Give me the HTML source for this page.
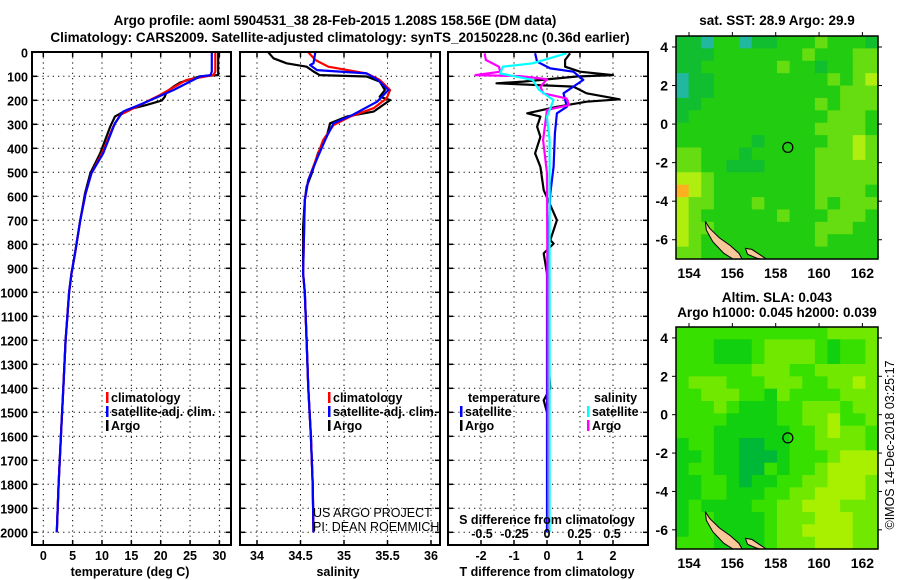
<!DOCTYPE html>
<html><head><meta charset="utf-8">
<style>
html,body{margin:0;padding:0;background:#fff;}
svg{display:block;font-family:"Liberation Sans",Arial,sans-serif;}
.b{font-weight:bold;font-size:12.5px;fill:#000;}
.t{font-weight:bold;font-size:13.5px;fill:#000;}
</style></head>
<body>
<svg id="fig" width="900" height="580" viewBox="0 0 900 580" xmlns="http://www.w3.org/2000/svg">
<text class="t" x="335" y="25" text-anchor="middle">Argo profile: aoml 5904531_38 28-Feb-2015 1.208S 158.56E (DM data)</text>
<text class="t" x="340" y="42" text-anchor="middle">Climatology: CARS2009. Satellite-adjusted climatology: synTS_20150228.nc (0.36d earlier)</text>
<text class="t" x="777" y="25" text-anchor="middle">sat. SST: 28.9 Argo: 29.9</text>
<text class="t" x="777" y="302" text-anchor="middle">Altim. SLA: 0.043</text>
<text class="t" x="777" y="317" text-anchor="middle">Argo h1000: 0.045 h2000: 0.039</text>
<text x="894" y="445" font-size="12.5" text-anchor="middle" transform="rotate(-90 894 445)">©IMOS 14-Dec-2018 03:25:17</text>
<g id="g-grid"></g>
<g id="g-lines"></g>
<g id="g-maps"></g>
<g id="g-frames"></g>
<g id="g-text"></g>
</svg>
<script>
// ---------- profile data ----------
const depthTicks = [0,100,200,300,400,500,600,700,800,900,1000,1100,1200,1300,1400,1500,1600,1700,1800,1900,2000];
const tempTicks = [0,5,10,15,20,25,30];
const salTicks = [34,34.5,35,35.5,36];
const salTickLabels = ["34","34.5","35","35.5","36"];
const tdiffTicks = [-2,-1,0,1,2];
const sdiffTicks = [-0.5,-0.25,0,0.25,0.5];
const sdiffTickLabels = ["-0.5","-0.25","0","0.25","0.5"];

const argoTDepth = [0,95,100,126,143,164,185,201,219,240,268,310,421,504,588,699,838,921,1000,1200,1400,1500,1600,1800,2000];
const argoT = [29.8,29.8,26.7,23.3,22.2,21,20.7,20.2,17.6,14.2,12.2,11.4,9.7,8,7.1,6.3,5.4,4.8,4.4,3.8,3.4,3.2,3.0,2.6,2.3];
const climTDepth = [0,80,95,115,178,219,240,261,310,421,504,588,699,838,921,1000,1200,1400,1600,1800,2000];
const climT = [29.3,29.3,29.0,24.4,19.9,16.5,14.8,13.1,11.9,10.0,8.2,7.2,6.3,5.4,4.8,4.4,3.8,3.4,3.0,2.6,2.3];
const satTDepth = [0,80,95,101,157,213,247,296,421,504,588,699,838,921,1000,1200,1400,1600,1800,2000];
const satT = [28.7,28.7,28.5,26.7,22.2,17,13.6,12.2,10.2,8.2,7.2,6.3,5.4,4.8,4.4,3.8,3.4,3.0,2.6,2.3];

const argoSDepth = [0,25,46,60,80,95,101,122,157,185,199,247,268,296,352,421,504,560,616,727,921,1000,1200,1400,1600,1800,2000];
const argoS = [34.13,34.19,34.34,34.57,34.65,34.72,35.26,35.41,35.47,35.41,35.53,35.34,35.03,34.84,34.8,34.7,34.63,34.57,34.55,34.53,34.53,34.55,34.57,34.59,34.62,34.64,34.65];
const climSDepth = [0,32,60,88,115,157,192,233,268,303,366,435,532,616,921,1000,1200,1400,1600,1800,2000];
const climS = [34.59,34.67,34.82,35.26,35.41,35.53,35.49,35.34,35.07,34.88,34.76,34.69,34.59,34.55,34.53,34.55,34.57,34.59,34.62,34.64,34.65];
const satSDepth = [0,46,53,74,88,115,157,206,261,296,352,435,532,616,921,1000,1200,1400,1600,1800,2000];
const satS = [34.67,34.65,34.61,34.69,35.26,35.39,35.51,35.38,35.1,34.88,34.8,34.7,34.59,34.55,34.53,34.55,34.57,34.59,34.62,34.64,34.65];

const argoTdDepth = [4,32,60,81,95,101,122,129,143,171,196,206,227,254,268,310,352,421,477,574,699,783,797,838,921,1000,1200,1400,1450,1500,1600,2000];
const argoTd = [0.7,0.55,0.55,1.0,2.0,0.9,-0.72,-1.53,0.8,1.2,2.2,1.2,0.3,-0.6,-0.2,-0.3,-0.2,-0.36,-0.2,-0.1,0.3,0.1,0.2,-0.1,0,0.05,0,0.1,-0.1,0,0.05,0];
const satTdDepth = [4,39,67,81,115,143,171,227,254,338,477,588,921,2000];
const satTd = [-0.36,-0.3,0.1,0.8,1.1,0.8,0.5,0.6,0.3,0.24,0.2,0.1,0,0];
const argoSdDepth = [4,32,60,81,95,99,112,143,171,192,220,240,366,504,2000];
const argoSd = [-0.48,-0.47,-0.37,-0.36,-0.55,-0.21,0,-0.05,-0.03,0.15,0.17,0,-0.03,0,0.01];
const satSdDepth = [4,46,60,88,115,157,199,268,366,2000];
const satSd = [0.15,-0.11,-0.34,-0.36,-0.11,-0.06,0.05,0,0.02,0.02];

// ---------- map data ----------
const mapLonTicks = [154,156,158,160,162];
const mapLatTicks = [4,2,0,-2,-4,-6];
const argoLon = 158.56, argoLat = -1.208;
const sstRows = [
"1102201122232221","1112222222322233","1122222232212233","0112222222223234",
"0112222222222333","1122222222232333","1222222222223332","2222222222233332",
"2222221222223343","3322212222233343","3322111222233333","4432222222233333",
"5432222222233332","4332223222232333","4322222232223332","4332222222233322",
"4322222222232222","3322222222222222"];
const slaRows = [
"2222222222223333","2221112333321223","2221112333321223","2222223332233333",
"2333222333223343","2233322132222333","2223211122333233","2222111122334223",
"2221111112234332","1221166112233332","1121166612223444","1221166212234444",
"1122161122334443","1122111223344443","1211112233444333","1221111233344433",
"1221111233444433","2221111233344433"];
const sstColors = {"0":"#22b8a0","1":"#10be30","2":"#22cc10","3":"#66dd10","4":"#b0ee10","5":"#ffb020"};
const slaColors = {"1":"#10d010","2":"#38e000","3":"#70e800","4":"#a8f000","6":"#00b838"};
const land1Lon = [154.75,154.95,155.4,155.9,156.3,156.45,156.1,155.6,155.1,154.8];
const land1Lat = [-5.05,-5.4,-5.9,-6.3,-6.7,-7.0,-7.05,-6.7,-6.1,-5.5];
const land2Lon = [156.6,156.9,157.3,157.7,157.6,157.1,156.7];
const land2Lat = [-6.45,-6.5,-6.8,-7.1,-7.1,-6.95,-6.75];

// ---------- scales ----------
const yD = d => 52.3 + d*0.24;
const xT = t => 43.3 + t*5.87;
const xS = s => 257 + (s-34)*87;
const xTd = v => 547 + v*33;
const xSd = v => 547 + v*130;
const NS = "http://www.w3.org/2000/svg";
function mk(tag, attrs, parent){const e=document.createElementNS(NS,tag);for(const k in attrs)e.setAttribute(k,attrs[k]);parent.appendChild(e);return e;}
const gGrid=document.getElementById('g-grid'), gLines=document.getElementById('g-lines'),
 gMaps=document.getElementById('g-maps'), gFr=document.getElementById('g-frames'), gTx=document.getElementById('g-text');

const panels = [
 {x0:32,x1:231,name:'temperature-panel'},
 {x0:240,x1:440,name:'salinity-panel'},
 {x0:448,x1:648,name:'difference-panel'}];
const yTop=52, yBot=545;

function vgrid(x){const l=mk('line',{x1:x,x2:x,y1:yTop,y2:yBot,stroke:'#000','stroke-width':1,'stroke-dasharray':'1.2,4'},gGrid);

}
tempTicks.forEach(t=>vgrid(xT(t)));
salTicks.forEach(s=>vgrid(xS(s)));
tdiffTicks.forEach(v=>vgrid(xTd(v)));
panels.forEach(p=>{depthTicks.slice(1).forEach(d=>{
 const l=mk('line',{x1:p.x0,x2:p.x1,y1:yD(d),y2:yD(d),stroke:'#000','stroke-width':1,'stroke-dasharray':'1.2,4'},gGrid);
 
 });});

function series(depths, vals, sx, color, name){
 const pts=depths.map((d,i)=>sx(vals[i]).toFixed(1)+','+yD(d).toFixed(1)).join(' ');
 const l=mk('polyline',{points:pts,fill:'none',stroke:color,'stroke-width':2.2,'stroke-linejoin':'round'},gLines);
 
 }
series(argoTDepth,argoT,xT,'#000','argo-temperature-line');
series(climTDepth,climT,xT,'#ff0000','climatology-temperature-line');
series(satTDepth,satT,xT,'#0000ff','satellite-temperature-line');
series(argoSDepth,argoS,xS,'#000','argo-salinity-line');
series(climSDepth,climS,xS,'#ff0000','climatology-salinity-line');
series(satSDepth,satS,xS,'#0000ff','satellite-salinity-line');
series(argoTdDepth,argoTd,xTd,'#000','argo-t-difference-line');
series(satTdDepth,satTd,xTd,'#0000ff','satellite-t-difference-line');
series(argoSdDepth,argoSd,xSd,'#ff00ff','argo-s-difference-line');
series(satSdDepth,satSd,xSd,'#00ffff','satellite-s-difference-line');

panels.forEach(p=>{
 const r=mk('rect',{x:p.x0,y:yTop,width:p.x1-p.x0,height:yBot-yTop,fill:'none',stroke:'#000','stroke-width':2},gFr);
 
 
 depthTicks.forEach(d=>{mk('line',{x1:p.x0,x2:p.x0+5,y1:yD(d),y2:yD(d),stroke:'#000','stroke-width':1.5},gFr);
  mk('line',{x1:p.x1-5,x2:p.x1,y1:yD(d),y2:yD(d),stroke:'#000','stroke-width':1.5},gFr);});
});
function xtick(x){mk('line',{x1:x,x2:x,y1:yBot-5,y2:yBot,stroke:'#000','stroke-width':1.5},gFr);mk('line',{x1:x,x2:x,y1:yTop,y2:yTop+5,stroke:'#000','stroke-width':1.5},gFr);}
tempTicks.forEach(t=>xtick(xT(t))); salTicks.forEach(s=>xtick(xS(s))); tdiffTicks.forEach(v=>xtick(xTd(v)));

function txt(x,y,s,name,opts){const e=mk('text',Object.assign({x:x,y:y,class:'b'},opts||{}),gTx);e.textContent=s;
 
 return e;}
depthTicks.forEach(d=>txt(28,yD(d)+5,String(d),'depth-tick-label',{'text-anchor':'end'}));
tempTicks.forEach(t=>txt(xT(t),560,String(t),'temperature-tick-label',{'text-anchor':'middle'}));
salTicks.forEach((s,i)=>txt(xS(s),560,salTickLabels[i],'salinity-tick-label',{'text-anchor':'middle'}));
tdiffTicks.forEach(v=>txt(xTd(v),560,String(v),'t-difference-tick-label',{'text-anchor':'middle'}));
sdiffTicks.forEach((v,i)=>txt(xSd(v),538,sdiffTickLabels[i],'s-difference-tick-label',{'text-anchor':'middle'}));
txt(130,576,'temperature (deg C)','temperature-axis-title',{'text-anchor':'middle'});
txt(338,576,'salinity','salinity-axis-title',{'text-anchor':'middle'});
txt(547,576,'T difference from climatology','t-difference-axis-title',{'text-anchor':'middle'});
txt(547,524,'S difference from climatology','s-difference-axis-title',{'text-anchor':'middle'});

function leg(x,y,color,label,name){const r=mk('rect',{x:x,y:y-10,width:2.5,height:11,fill:color},gTx);
 
 
 txt(x+5,y,label,name);}
leg(106,402,'#ff0000','climatology','legend-climatology');
leg(106,416,'#0000ff','satellite-adj. clim.','legend-satellite-adj');
leg(106,430,'#000','Argo','legend-argo');
leg(328,402,'#ff0000','climatology','legend-climatology-salinity');
leg(328,416,'#0000ff','satellite-adj. clim.','legend-satellite-adj-salinity');
leg(328,430,'#000','Argo','legend-argo-salinity');
txt(468,402,'temperature','legend-temperature-heading');
leg(460,416,'#0000ff','satellite','legend-t-satellite');
leg(460,430,'#000','Argo','legend-t-argo');
txt(594,402,'salinity','legend-salinity-heading');
leg(587,416,'#00ffff','satellite','legend-s-satellite');
leg(587,430,'#ff00ff','Argo','legend-s-argo');
txt(313,517,'US ARGO PROJECT','credit-project',{class:'',style:'font-size:12.5px'});
txt(313,531,'PI: DEAN ROEMMICH','credit-pi',{class:'',style:'font-size:12.5px'});

function drawMap(top,bot,rows,colors,name){
 const x0=676,x1=878;
 const lonA=153.4,lonB=162.72,latA=4.57,latB=-7.0;
 const mx=l=>x0+(l-lonA)/(lonB-lonA)*(x1-x0);
 const my=l=>top+(latA-l)/(latA-latB)*(bot-top);
 const g=mk('g',{},gMaps);
 
 
 const nr=rows.length,nc=rows[0].length,cw=(x1-x0)/nc,ch=(bot-top)/nr;
 rows.forEach((row,i)=>{for(let j=0;j<nc;j++){
  const c=mk('rect',{x:(x0+j*cw).toFixed(2),y:(top+i*ch).toFixed(2),width:(cw+0.6).toFixed(2),height:(ch+0.6).toFixed(2),fill:colors[row[j]]},g);
  
  }});
 const clip='clip-'+name;
 const cp=mk('clipPath',{id:clip},g); mk('rect',{x:x0,y:top,width:x1-x0,height:bot-top},cp);
 [[land1Lon,land1Lat],[land2Lon,land2Lat]].forEach(([lo,la])=>{
  const pts=lo.map((v,i)=>mx(v).toFixed(1)+','+my(la[i]).toFixed(1)).join(' ');
  const p=mk('polygon',{points:pts,fill:'#f8c89a',stroke:'#000','stroke-width':1,'clip-path':'url(#'+clip+')'},g);
  
  });
 const cc=mk('circle',{cx:mx(argoLon),cy:my(argoLat),r:5,fill:'none',stroke:'#000','stroke-width':1.3},g);
 
 
 const fr=mk('rect',{x:x0,y:top,width:x1-x0,height:bot-top,fill:'none',stroke:'#000','stroke-width':1.5},g);
 
 
 mapLonTicks.forEach(l=>{mk('line',{x1:mx(l),x2:mx(l),y1:top-4,y2:top,stroke:'#000'},g);
  txt(mx(l),bot+19,String(l),'map-longitude-label',{'text-anchor':'middle','style':'font-size:14px'});});
 mapLatTicks.forEach(l=>{mk('line',{x1:x0-4,x2:x0,y1:my(l),y2:my(l),stroke:'#000'},g);
  mk('line',{x1:x1,x2:x1+4,y1:my(l),y2:my(l),stroke:'#000'},g);
  txt(x0-8,my(l)+5,String(l),'map-latitude-label',{'text-anchor':'end','style':'font-size:14px'});});
}
drawMap(36,259,sstRows,sstColors,'sst-map');
drawMap(327,549,slaRows,slaColors,'sla-map');
</script>
</body></html>
